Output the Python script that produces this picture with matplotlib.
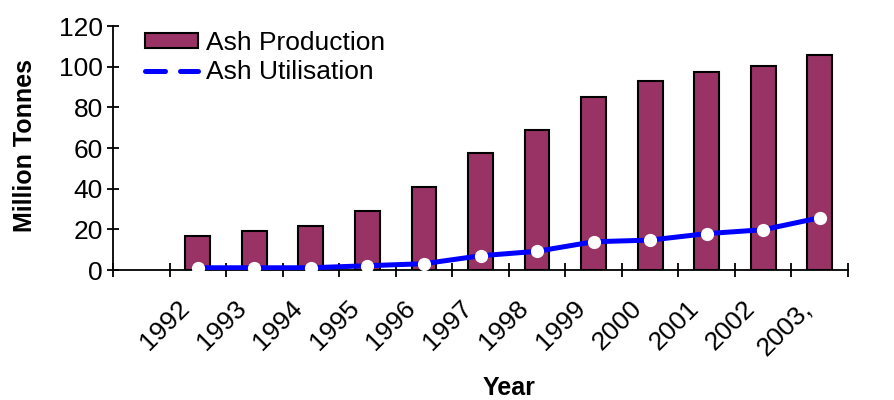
import matplotlib.pyplot as plt
import matplotlib.transforms as mtransforms
from matplotlib.lines import Line2D
import numpy as np

plt.rcParams["font.family"] = ["Liberation Sans", "DejaVu Sans"]

# Fly ash figures, million tonnes per year
years = ["1992", "1993", "1994", "1995", "1996", "1997",
         "1998", "1999", "2000", "2001", "2002", "2003,"]
ash_production = [16.5, 19.4, 21.4, 29.2, 41.0, 57.7,
                  68.7, 85.2, 93.1, 97.2, 100.1, 105.8]
ash_utilisation = [1.1, 1.1, 1.1, 2.1, 3.1, 7.0,
                   9.2, 13.9, 14.7, 17.9, 19.8, 25.7]

bar_color = "#993366"
line_color = "#0000FF"


def plot_data():
    fig = plt.figure(figsize=(8.94, 4.0), dpi=100)
    ax = fig.add_axes([113 / 894, 130 / 400, 735 / 894, 244 / 400])

    # first category slot is left empty
    x = np.arange(1, len(years) + 1)
    bars = ax.bar(x, ash_production, width=0.44, color=bar_color,
                  edgecolor="black", linewidth=1.5, zorder=2)
    ax.plot(x, ash_utilisation, color=line_color, linewidth=3.6,
            marker="o", markersize=8.5, markerfacecolor="white",
            markeredgecolor="white", zorder=3)

    ax.set_xlim(-0.5, len(years) + 0.5)
    ax.set_ylim(0, 120)
    ax.set_yticks(range(0, 121, 20))

    for side in ("top", "right"):
        ax.spines[side].set_visible(False)
    ax.spines["left"].set_linewidth(1.3)
    ax.spines["bottom"].set_linewidth(1.3)

    ax.tick_params(axis="y", direction="inout", length=8.5, width=1.3,
                   pad=3, labelsize=19)
    # category boundaries get the tick marks, labels sit at the centres
    ax.set_xticks(x)
    ax.set_xticks(np.arange(-0.5, len(years) + 1, 1.0), minor=True)
    ax.tick_params(axis="x", which="major", length=0, pad=25, labelsize=19)
    ax.tick_params(axis="x", which="minor", direction="inout", length=10,
                   width=1.3)
    ax.set_xticklabels(years, rotation=45, ha="right", va="center",
                       rotation_mode="anchor")
    shift = mtransforms.ScaledTranslation(-0.12, 0, fig.dpi_scale_trans)
    for lbl in ax.get_xticklabels():
        lbl.set_transform(lbl.get_transform() + shift)

    ax.set_ylabel("Million Tonnes", fontsize=18, fontweight="bold")
    ax.yaxis.set_label_coords(-0.104, 0.51)
    ax.set_xlabel("Year", fontsize=18, fontweight="bold", va="center")
    ax.xaxis.set_label_coords(0.539, -0.484)

    dashed = Line2D([], [], color=line_color, linewidth=3.6,
                    linestyle=(0, (4, 3)), dash_capstyle="round")
    ax.legend([bars, dashed], ["Ash Production", "Ash Utilisation"],
              loc="upper left", bbox_to_anchor=(19 / 735, 1.033),
              frameon=False, fontsize=19, handlelength=2.0,
              handleheight=0.5, handletextpad=0.3, labelspacing=0.2,
              borderaxespad=0.1)

    fig.savefig("out.png", dpi=100)


if __name__ == "__main__":
    plot_data()
